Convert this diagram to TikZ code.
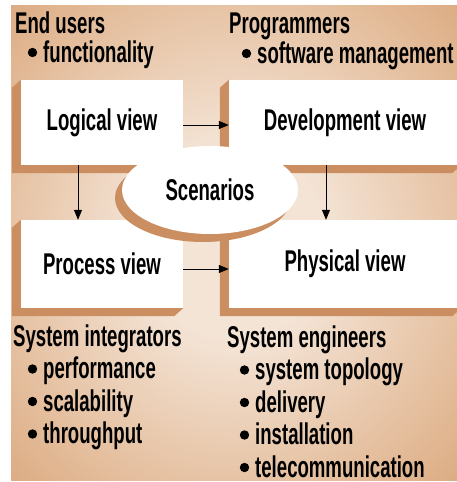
\documentclass[tikz,border=0pt]{standalone}
\usepackage{fontspec}
\setmainfont{Liberation Sans}[FakeStretch=0.62]
\usetikzlibrary{arrows.meta,shapes.geometric,shadows,backgrounds}

\definecolor{paperEdge}{RGB}{202,138,90}
\definecolor{paperMid}{RGB}{224,180,142}
\definecolor{paperCenter}{RGB}{244,228,214}
\definecolor{viewShadow}{RGB}{203,142,96}
\pgfdeclareradialshading{paperShading}{\pgfpoint{0bp}{0bp}}{
	color(0bp)=(paperCenter);
	color(10bp)=(paperCenter);
	color(32bp)=(paperMid);
	color(50bp)=(paperEdge);
	color(75bp)=(paperEdge)}

\newcommand\labelFont{\fontsize{30}{33}\bfseries\selectfont}
\newcommand\viewShiftX{-9}
\newcommand\viewShiftY{8}
\newcommand\itemSkip{32.5}
\newcommand\drawViewShadows{
	\foreach \v in {logical,development,process,physical}{
		\fill[color=viewShadow]
		(\v.north west) --
		([shift={(\viewShiftX,\viewShiftY)}]\v.north west) --
		([shift={(\viewShiftX,\viewShiftY)}]\v.south west) --
		([shift={(\viewShiftX,\viewShiftY)}]\v.south east) --
		(\v.south east) -- cycle;
	}
}
% #1 node name, #2 base point, #3 text
\newcommand\drawItem[3]{
	\node[item] (#1) at (#2) {#3};
	\fill ([xshift=-10.5pt,yshift=9.5pt]#1.base west) circle (4.7pt);
}

\begin{document}
\begin{tikzpicture}[x=1pt,y=-1pt,
		view/.style 2 args={fill=white, inner sep=0pt, minimum width=#1, minimum height=#2, font=\labelFont},
		heading/.style={anchor=base west, inner sep=0pt, font=\labelFont},
		item/.style={heading},
		flow/.style={-{Triangle[length=10pt,width=8pt]}, line width=0.8pt}]
		
		\useasboundingbox (0,0) rectangle (457,482);
		\clip (0,0) rectangle (457,482);
		
		% the four views
		\node[view={162pt}{85pt}] (logical) at (102,122.5) {Logical view};
		\node[view={232pt}{85pt}] (development) at (345,122.5) {Development view};
		\node[view={162pt}{88pt}] (process) at (102,264) {Process view};
		\node[view={232pt}{88pt}] (physical) at (345,264) {Physical view};
		
		\begin{scope}[on background layer]
			\shade[shading=paperShading] (11,5) rectangle (457,480);
			\drawViewShadows
		\end{scope}
		
		\draw[flow] ([yshift=-2.5pt]logical.east) -- ([yshift=-2.5pt]development.west);
		\draw[flow] ([xshift=-24pt]logical.south) -- ([xshift=-24pt]process.north);
		\draw[flow] ([xshift=-19pt]development.south) -- ([xshift=-19pt]physical.north);
		\draw[flow] ([yshift=-5pt]process.east) -- ([yshift=-5pt]physical.west);
		
		\node[ellipse, fill=white, minimum width=176pt, minimum height=88pt, inner sep=0pt, font=\labelFont,
			drop shadow={shadow xshift=-7pt, shadow yshift=-8pt, fill=viewShadow, opacity=1}]
			(scenarios) at (210,190) {Scenarios};
		
		% stakeholders and their concerns
		\node[heading] (endUsers) at (15,33) {End users};
		\drawItem{functionality}{43,62}{functionality}
		
		\node[heading] (programmers) at (229,33) {Programmers};
		\drawItem{management}{257,63}{software management}
		
		\node[heading] (integrators) at (13,346) {System integrators};
		\foreach \txt [count=\k] in {performance,scalability,throughput}{
			\drawItem{integ\k}{43,346+\k*\itemSkip}{\txt}
		}
		
		\node[heading] (engineers) at (227,347) {System engineers};
		\foreach \txt [count=\k] in {system topology,delivery,installation,telecommunication}{
			\drawItem{eng\k}{255,347+\k*\itemSkip}{\txt}
		}
	\end{tikzpicture}
\end{document}
